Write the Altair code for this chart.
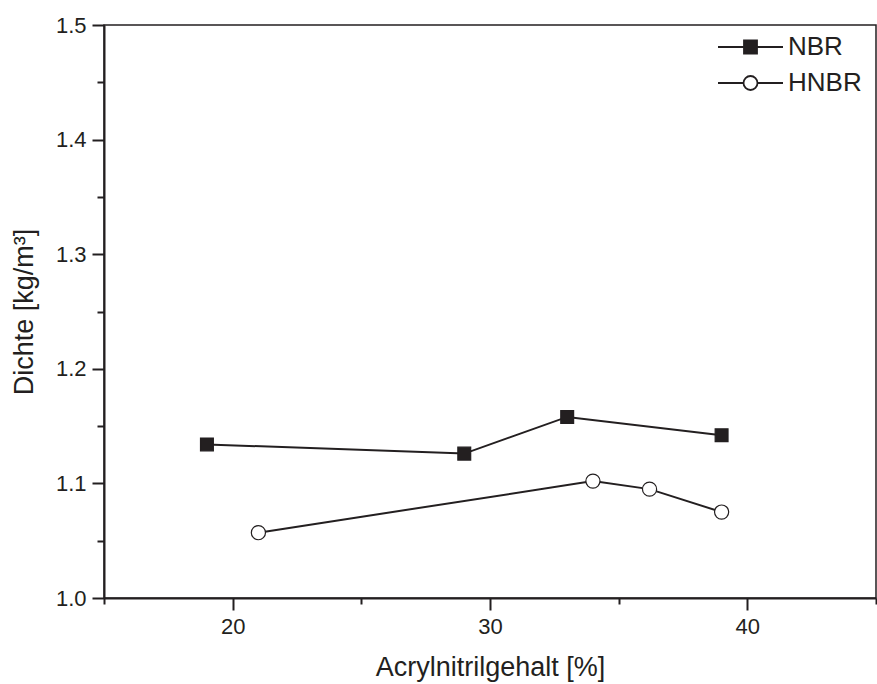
import altair as alt
import pandas as pd

# Density measurements vs. acrylonitrile content
nbr_x = [19, 29, 33, 39]
nbr_y = [1.134, 1.126, 1.158, 1.142]
hnbr_x = [21, 34, 36.2, 39]
hnbr_y = [1.057, 1.102, 1.095, 1.075]
series_names = ["NBR", "HNBR"]

x_ticks = [15, 20, 25, 30, 35, 40, 45]
y_ticks = [1.0, 1.05, 1.1, 1.15, 1.2, 1.25, 1.3, 1.35, 1.4, 1.45, 1.5]

df = pd.concat([
    pd.DataFrame({"series": "NBR", "x": nbr_x, "y": nbr_y, "order": range(len(nbr_x))}),
    pd.DataFrame({"series": "HNBR", "x": hnbr_x, "y": hnbr_y, "order": range(len(hnbr_x))}),
], ignore_index=True)

INK = "#231f20"
FONT = "Liberation Sans"

x_enc = alt.X(
    "x:Q",
    scale=alt.Scale(domain=[15, 45], nice=False, zero=False),
    axis=alt.Axis(
        values=x_ticks,
        labelExpr="datum.value % 10 === 0 ? datum.label : ''",
        tickSize={"condition": {"test": "datum.value % 10 === 0", "value": 12}, "value": 6},
        title="Acrylnitrilgehalt [%]",
        labelPadding=6,
        titlePadding=17,
    ),
)
y_enc = alt.Y(
    "y:Q",
    scale=alt.Scale(domain=[1.0, 1.5], nice=False, zero=False),
    axis=alt.Axis(
        values=y_ticks,
        labelExpr="round(datum.value * 100) % 10 === 0 ? format(datum.value, '.1f') : ''",
        tickSize={"condition": {"test": "round(datum.value * 100) % 10 === 0", "value": 12}, "value": 7},
        title="Dichte [kg/m³]",
        labelPadding=6,
        titlePadding=17,
    ),
)

base = alt.Chart(df)

lines = base.mark_line(color=INK, strokeWidth=2).encode(
    x=x_enc, y=y_enc, detail="series:N", order="order:Q"
)

points = base.mark_point(filled=True, stroke=INK, strokeWidth=1.2, opacity=1).encode(
    x=x_enc,
    y=y_enc,
    shape=alt.Shape("series:N", scale=alt.Scale(domain=series_names, range=["square", "circle"]), legend=None),
    fill=alt.Fill("series:N", scale=alt.Scale(domain=series_names, range=[INK, "white"]), legend=None),
    size=alt.Size("series:N", scale=alt.Scale(domain=series_names, range=[165, 200]), legend=None),
)

# Legend symbols: line segment with the marker in the middle
nbr_symbol = "M-1,0H-0.2M0.2,0H1M-0.2,-0.2H0.2V0.2H-0.2Z"
hnbr_symbol = ("M-1,0H-0.215M0.215,0H1M-0.215,0A0.215,0.215,0,1,0,0.215,0"
               "A0.215,0.215,0,1,0,-0.215,0Z")

legend = alt.Legend(
    title=None,
    orient="none",
    legendX=613,
    legendY=10,
    padding=0,
    symbolSize=4225,
    symbolStrokeColor=INK,
    symbolStrokeWidth=1.8,
    symbolOpacity=1,
    labelFontSize=26,
    labelFont=FONT,
    labelColor=INK,
    labelOffset=4,
    clipHeight=24,
    rowPadding=10,
)

legend_layer = base.transform_filter("datum.x < 0").mark_point(
    filled=True, strokeWidth=1.8, opacity=1
).encode(
    x=x_enc,
    y=y_enc,
    shape=alt.Shape("series:N", scale=alt.Scale(domain=series_names, range=[nbr_symbol, hnbr_symbol]), legend=legend),
    fill=alt.Fill("series:N", scale=alt.Scale(domain=series_names, range=[INK, "white"]), legend=legend),
    stroke=alt.Stroke("series:N", scale=alt.Scale(domain=series_names, range=[INK, INK]), legend=legend),
)

chart = alt.layer(lines, points, legend_layer).resolve_scale(
    shape="independent", fill="independent", stroke="independent"
).properties(
    width=772,
    height=573,
    autosize="none",
    padding={"left": 104, "top": 25, "right": 1, "bottom": 86},
).configure_view(
    stroke=INK, strokeWidth=1.5
).configure_axis(
    grid=False,
    domainColor=INK,
    domainWidth=2,
    tickColor=INK,
    tickWidth=2,
    labelFont=FONT,
    labelFontSize=22,
    labelColor=INK,
    titleFont=FONT,
    titleFontSize=27,
    titleFontWeight="normal",
    titleColor=INK,
)

chart.save("out.html", embed_options={"renderer": "svg", "actions": False})
